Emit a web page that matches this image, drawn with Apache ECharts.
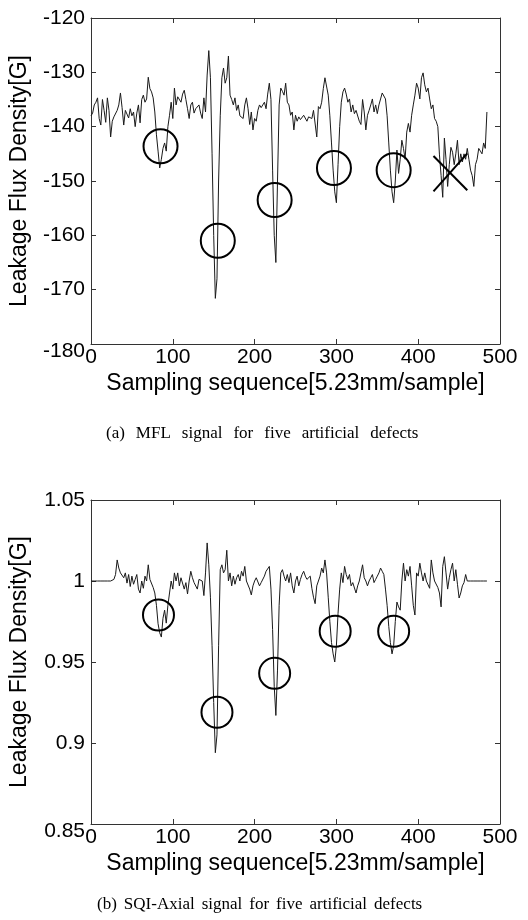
<!DOCTYPE html>
<html><head><meta charset="utf-8">
<script src="https://cdn.jsdelivr.net/npm/echarts@6/dist/echarts.min.js"></script>
<style>html,body{margin:0;padding:0;background:#fff}#c{width:528px;height:920px}</style>
</head><body><div id="c"></div>
<script>
// ---- data (sample index = position * sampleStep) ----
const sampleStep = 2;
const mflValues = [
-138,-137.5,-136,-135.5,-134.7,-138.5,-139.7,-135,-137,-139.2,
-134.7,-137,-141.9,-139,-138.2,-138.5,-137,-136,-133.8,-136.5,
-139.7,-137,-136.7,-138.4,-136.7,-138,-137.3,-140,-137.5,-136,
-139.3,-135,-134.2,-135.5,-134.9,-130.9,-133,-133.6,-134.7,-137.3,
-141.5,-144.5,-147.6,-146,-144,-143,-144.5,-140,-137.9,-135.5,
-138.5,-132.9,-136,-134.5,-134.2,-135.5,-134,-133.3,-135,-136.7,
-138.5,-136,-135.5,-137.5,-136.7,-137,-136,-137.5,-138.5,-134.7,
-137.3,-130.5,-126,-131,-145,-160,-171.6,-168,-150,-138,
-131,-129.2,-132,-131,-127,-134.2,-135,-136,-134.7,-137,
-136,-138,-137.9,-138.5,-136,-134.7,-136.7,-139.6,-137.3,-140.6,
-138.5,-139,-137,-136,-136.5,-136.3,-135.5,-136.7,-134,-132,
-135,-148,-160,-165,-150,-136,-132.9,-133.5,-134.2,-132,
-135.5,-136,-137.9,-137.3,-140.6,-137.9,-139,-138.2,-138.7,-138.7,
-137.9,-138,-139,-138.2,-138.5,-138.5,-137,-136.7,-141.9,-136.3,
-136.7,-135.5,-133,-131,-130.9,-134.2,-138,-143,-148,-152,
-154,-147,-140,-135.5,-133.6,-132.9,-134,-135.5,-134.9,-137.3,
-136,-137.6,-137,-136.7,-139,-139.6,-135,-137.3,-140.6,-137.9,
-137,-136,-134.9,-137.3,-136,-137.6,-136,-134.9,-133.8,-133.8,
-134.9,-138,-143,-148,-152,-154,-150,-144.3,-148.6,-146,
-142.5,-144,-146,-141,-139.4,-141,-137.9,-136,-134.2,-132,
-132.9,-134.9,-131,-130.1,-132.3,-133.6,-132.9,-134.9,-136.7,-136,
-138.5,-139,-140,-145.2,-149,-153,-142.1,-146,-151,-147,
-143.8,-144.7,-147,-145,-142.5,-147,-145,-146.5,-145,-146,
-144,-146,-148,-149,-151,-147,-146,-144,-144.5,-145,
-143,-144,-137.3
];
const sqiValues = [
1,1,1,1,1,1,1,1,1,1,
1,1,1,1,1.001,1.004,1.013,1.008,1.005,1.006,
1.002,1.005,0.9987,1.004,0.9966,1.003,0.998,1.001,1.004,0.995,
0.9926,1.0,0.9955,1.003,1.0,1.01,1.001,1.0,0.996,0.9926,
0.985,0.9736,0.968,0.9654,0.977,0.982,0.974,0.985,0.9926,1.0,
0.995,1.005,1.0,1.005,0.997,1.002,1.001,0.995,0.999,0.992,
1.0,1.006,1.002,0.999,1.0,0.995,1.001,1.0,1.0,0.991,
1.005,1.0235,1.01,0.99,0.96,0.925,0.894,0.905,0.96,1.007,
1.01,1.005,1.007,1.019,1.0,1.005,0.997,1.003,0.998,1.002,
1.004,1.0,1.006,1.003,1.009,1.0,1.0,0.995,0.9914,0.997,
1.0,1.002,1.003,0.997,0.999,1.0,1.003,1.006,1.005,1.009,
0.995,0.97,0.935,0.917,0.945,0.985,1.005,1.007,1.003,1.0,
1.004,0.999,1.005,0.997,0.9926,1.0,1.003,0.997,1.001,1.004,
1.006,1.003,1.001,1.0,1.003,0.9955,0.99,0.986,0.997,1.0,
1.003,1.008,1.005,1.013,1.005,0.99,0.975,0.962,0.955,0.95,
0.96,0.98,0.995,1.005,0.999,1.009,1.004,1.001,1.004,0.997,
0.999,0.998,0.9926,0.997,1.0,1.005,1.01,1.002,1.0,0.997,
1.0,1.002,1.004,0.999,1.001,1.003,1.005,1.008,1.006,1.004,
0.995,0.985,0.972,0.962,0.955,0.96,0.975,0.987,0.984,0.982,
1.0,1.011,1.0,1.007,1.003,1.009,0.997,0.985,0.979,1.005,
1.003,1.011,1.005,1.0,1.005,1.0,0.999,0.9955,1.013,1.005,
1.0,0.999,0.996,0.9926,0.984,1.009,1.015,1.005,0.995,1.002,
1.007,1.011,1.0,1.007,0.998,0.9895,0.9926,0.997,0.999,1.004,
1.0,1.0,1,1,1,1,1,1,1,1,
1,1,1
];
const mflCircles = [[85,-143.6],[155,-161],[224.5,-153.5],[297,-147.6],[370,-148]];
const sqiCircles = [[82.5,0.979],[154,0.919],[224.5,0.943],[298.5,0.969],[370,0.969]];
const mflCross = [
  [[418.7,-145.4],[460,-151.7]],
  [[418.7,-151.9],[460,-144.9]]
];
const xTicks = {min:0, max:500, interval:100};
const mflY = {min:-180, max:-120, interval:10};
const sqiY = {min:0.85, max:1.05, interval:0.05};
const xName = 'Sampling sequence[5.23mm/sample]';
const yName = 'Leakage Flux Density[G]';
const captionA = ['(a)','MFL','signal','for','five','artificial','defects'];
const captionB = ['(b)','SQI-Axial','signal','for','five','artificial','defects'];

// ---- chart ----
const sans = 'Arial, "Liberation Sans", sans-serif';
const serif = '"Times New Roman", "Liberation Serif", serif';
const axisColor = '#333';
function toPairs(vals){ return vals.map((v,i)=>[i*sampleStep, v]); }

function xMain(g){
  return Object.assign({type:'value', gridIndex:g, position:'bottom',
    axisLine:{show:true, onZero:false, lineStyle:{color:axisColor, width:1}},
    axisTick:{show:true, inside:true, length:5, lineStyle:{color:axisColor}},
    axisLabel:{color:'#000', fontSize:21, fontFamily:sans, margin:3},
    splitLine:{show:false},
    name:xName, nameLocation:'middle', nameGap:28,
    nameTextStyle:{color:'#000', fontSize:23, fontFamily:sans}}, xTicks);
}
function xTop(g){
  return Object.assign({type:'value', gridIndex:g, position:'top',
    axisLine:{show:true, onZero:false, lineStyle:{color:axisColor, width:1}},
    axisTick:{show:true, inside:true, length:5, lineStyle:{color:axisColor}},
    axisLabel:{show:false}, splitLine:{show:false}}, xTicks);
}
function yMain(g, range){
  return Object.assign({type:'value', gridIndex:g, position:'left',
    axisLine:{show:true, onZero:false, lineStyle:{color:axisColor, width:1}},
    axisTick:{show:true, inside:true, length:5, lineStyle:{color:axisColor}},
    axisLabel:{color:'#000', fontSize:21, fontFamily:sans, margin:6,
      formatter:function(v, i){ const s = String(+v.toFixed(4)); return i===0 ? '{low|'+s+'}' : s; },
      rich:{low:{color:'#000', fontSize:21, fontFamily:sans, padding:[14,0,0,0]}}},
    splitLine:{show:false},
    name:yName, nameLocation:'middle', nameGap:60,
    nameTextStyle:{color:'#000', fontSize:23, fontFamily:sans}}, range);
}
function yRight(g, range){
  return Object.assign({type:'value', gridIndex:g, position:'right',
    axisLine:{show:true, onZero:false, lineStyle:{color:axisColor, width:1}},
    axisTick:{show:true, inside:true, length:5, lineStyle:{color:axisColor}},
    axisLabel:{show:false}, splitLine:{show:false}}, range);
}
function caption(words){ return words.map(w=>'{w|'+w+'}').join('{g| }'); }
function captionRich(gap){
  return {w:{fontFamily:serif, fontSize:17, fill:'#000'}, g:{fontFamily:serif, fontSize:17, width:gap}};
}
const circleStyle = {color:'rgba(0,0,0,0)', borderColor:'#000', borderWidth:2, opacity:1};

const chart = echarts.init(document.getElementById('c'));
chart.setOption({
  animation:false,
  backgroundColor:'#fff',
  grid:[
    {left:88, right:28, top:18, height:326},
    {left:88, right:28, top:500, height:324}
  ],
  xAxis:[xMain(0), xTop(0), xMain(1), xTop(1)],
  yAxis:[yMain(0, mflY), yRight(0, mflY), yMain(1, sqiY), yRight(1, sqiY)],
  series:[
    {type:'line', xAxisIndex:0, yAxisIndex:0, data:toPairs(mflValues), showSymbol:false,
      lineStyle:{color:'#1a1a1a', width:1}, silent:true, z:2},
    {type:'scatter', xAxisIndex:0, yAxisIndex:0, data:mflCircles, symbol:'circle', symbolSize:34,
      itemStyle:circleStyle, silent:true, z:3},
    {type:'line', xAxisIndex:0, yAxisIndex:0, data:mflCross[0], showSymbol:false,
      lineStyle:{color:'#000', width:2}, silent:true, z:3},
    {type:'line', xAxisIndex:0, yAxisIndex:0, data:mflCross[1], showSymbol:false,
      lineStyle:{color:'#000', width:2}, silent:true, z:3},
    {type:'line', xAxisIndex:2, yAxisIndex:2, data:toPairs(sqiValues), showSymbol:false,
      lineStyle:{color:'#1a1a1a', width:1}, silent:true, z:2},
    {type:'scatter', xAxisIndex:2, yAxisIndex:2, data:sqiCircles, symbol:'circle', symbolSize:31,
      itemStyle:circleStyle, silent:true, z:3}
  ],
  graphic:[
    {type:'text', x:106, y:434, style:{text:caption(captionA), rich:captionRich(11), verticalAlign:'middle', align:'left'}},
    {type:'text', x:97, y:905, style:{text:caption(captionB), rich:captionRich(7), verticalAlign:'middle', align:'left'}}
  ]
});
</script></body></html>
